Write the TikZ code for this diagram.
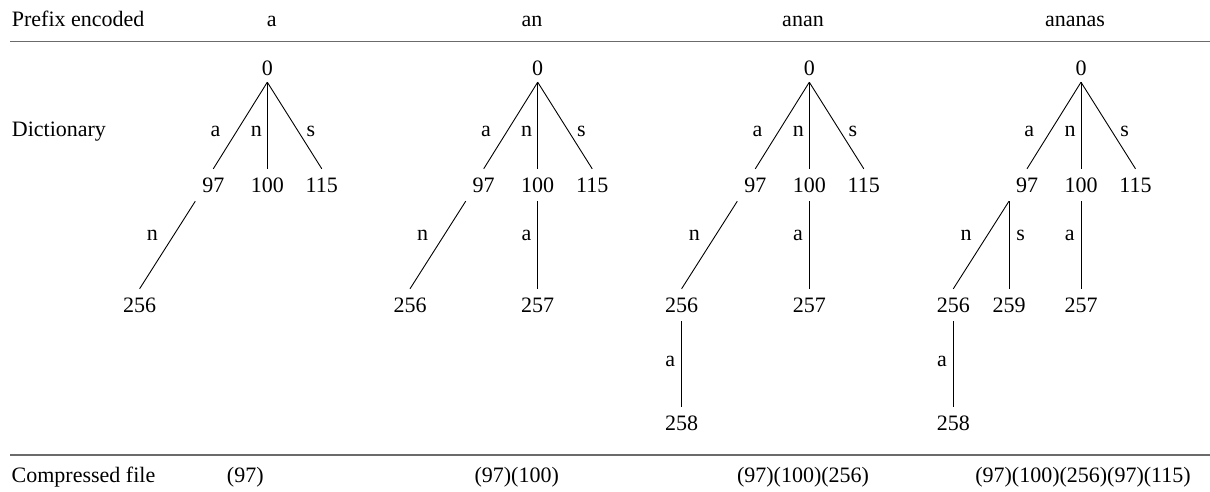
\documentclass[tikz,border=0pt]{standalone}
\usepackage{fontspec}
\setmainfont{Liberation Serif}
\newcommand{\fsz}{\fontsize{22}{26}\selectfont}
\tikzset{
  num/.style={font=\fsz, inner sep=0pt, text height=15pt, text depth=0pt, minimum height=32pt},
  rootnum/.style={num, minimum height=28pt},
  lbl/.style={font=\fsz, inner sep=0pt, text height=10pt, text depth=0pt},
  txt/.style={font=\fsz, inner sep=0pt, anchor=base},
  rowlabel/.style={font=\fsz, inner sep=0pt, anchor=base west},
  edge/.style={line width=0.9pt, black},
  rulel/.style={line width=1.4pt, black!58}
}
\begin{document}
\begin{tikzpicture}[x=1pt, y=-1pt]
\useasboundingbox (0,0) rectangle (1210,491);
% rules
\draw[rulel] (10,41.7) -- (1210,41.7);
\draw[rulel] (10,455) -- (1210,455);
% header row
\node[rowlabel] (hdr) at (11.7,26) {Prefix encoded};
\node[txt] (h1) at (271.7,26) {a};
\node[txt] (h2) at (532,26) {an};
\node[txt] (h3) at (803,26) {anan};
\node[txt] (h4) at (1075,26) {ananas};
% dictionary label
\node[rowlabel] (dict) at (11.7,136.5) {Dictionary};
% compressed row
\node[rowlabel] (cmp) at (11.5,482) {Compressed file};
\node[txt] (c1) at (245.3,482) {(97)};
\node[txt] (c2) at (516.7,482) {(97)(100)};
\node[txt] (c3) at (803,482) {(97)(100)(256)};
\node[txt] (c4) at (1083,482) {(97)(100)(256)(97)(115)};

% ---------- tree 1 ----------
\begin{scope}[xshift=267.3pt]
\node[rootnum] (t1r) at (0,68) {0};
\node[num] (t1a) at (-54,185) {97};
\node[num] (t1n) at (0,185) {100};
\node[num] (t1s) at (54.5,185) {115};
\node[num] (t1an) at (-127.7,305) {256};
\draw[edge] (t1r.south) -- (t1a.north);
\draw[edge] (t1r.south) -- (t1n.north);
\draw[edge] (t1r.south) -- (t1s.north);
\draw[edge] ([xshift=-18pt]t1a.south) -- (t1an.north);
\node[lbl] (t1la) at (-51.7,131.7) {a};
\node[lbl] (t1ln) at (-11,131.7) {n};
\node[lbl] (t1ls) at (43.7,131.7) {s};
\node[lbl] (t1lan) at (-115,235) {n};
\end{scope}

% ---------- tree 2 ----------
\begin{scope}[xshift=537.7pt]
\node[rootnum] (t2r) at (0,68) {0};
\node[num] (t2a) at (-54,185) {97};
\node[num] (t2n) at (0,185) {100};
\node[num] (t2s) at (54.5,185) {115};
\node[num] (t2an) at (-127.7,305) {256};
\node[num] (t2na) at (0,305) {257};
\draw[edge] (t2r.south) -- (t2a.north);
\draw[edge] (t2r.south) -- (t2n.north);
\draw[edge] (t2r.south) -- (t2s.north);
\draw[edge] ([xshift=-18pt]t2a.south) -- (t2an.north);
\draw[edge] (t2n.south) -- (t2na.north);
\node[lbl] (t2la) at (-51.7,131.7) {a};
\node[lbl] (t2ln) at (-11,131.7) {n};
\node[lbl] (t2ls) at (43.7,131.7) {s};
\node[lbl] (t2lan) at (-115,235) {n};
\node[lbl] (t2lna) at (-11.3,235) {a};
\end{scope}

% ---------- tree 3 ----------
\begin{scope}[xshift=809.3pt]
\node[rootnum] (t3r) at (0,68) {0};
\node[num] (t3a) at (-54,185) {97};
\node[num] (t3n) at (0,185) {100};
\node[num] (t3s) at (54.5,185) {115};
\node[num] (t3an) at (-127.7,305) {256};
\node[num] (t3na) at (0,305) {257};
\node[num] (t3ana) at (-127.7,423) {258};
\draw[edge] (t3r.south) -- (t3a.north);
\draw[edge] (t3r.south) -- (t3n.north);
\draw[edge] (t3r.south) -- (t3s.north);
\draw[edge] ([xshift=-18pt]t3a.south) -- (t3an.north);
\draw[edge] (t3n.south) -- (t3na.north);
\draw[edge] (t3an.south) -- (t3ana.north);
\node[lbl] (t3la) at (-51.7,131.7) {a};
\node[lbl] (t3ln) at (-11,131.7) {n};
\node[lbl] (t3ls) at (43.7,131.7) {s};
\node[lbl] (t3lan) at (-115,235) {n};
\node[lbl] (t3lna) at (-11.3,235) {a};
\node[lbl] (t3lana) at (-139,361.7) {a};
\end{scope}

% ---------- tree 4 ----------
\begin{scope}[xshift=1081pt]
\node[rootnum] (t4r) at (0,68) {0};
\node[num] (t4a) at (-54,185) {97};
\node[num] (t4n) at (0,185) {100};
\node[num] (t4s) at (54.5,185) {115};
\node[num] (t4an) at (-127.7,305) {256};
\node[num] (t4as) at (-72,305) {259};
\node[num] (t4na) at (0,305) {257};
\node[num] (t4ana) at (-127.7,423) {258};
\draw[edge] (t4r.south) -- (t4a.north);
\draw[edge] (t4r.south) -- (t4n.north);
\draw[edge] (t4r.south) -- (t4s.north);
\draw[edge] ([xshift=-18pt]t4a.south) -- (t4an.north);
\draw[edge] ([xshift=-18pt]t4a.south) -- (t4as.north);
\draw[edge] (t4n.south) -- (t4na.north);
\draw[edge] (t4an.south) -- (t4ana.north);
\node[lbl] (t4la) at (-51.7,131.7) {a};
\node[lbl] (t4ln) at (-11,131.7) {n};
\node[lbl] (t4ls) at (43.7,131.7) {s};
\node[lbl] (t4lan) at (-115,235) {n};
\node[lbl] (t4las) at (-60.3,235) {s};
\node[lbl] (t4lna) at (-11.3,235) {a};
\node[lbl] (t4lana) at (-139,361.7) {a};
\end{scope}
\end{tikzpicture}
\end{document}
